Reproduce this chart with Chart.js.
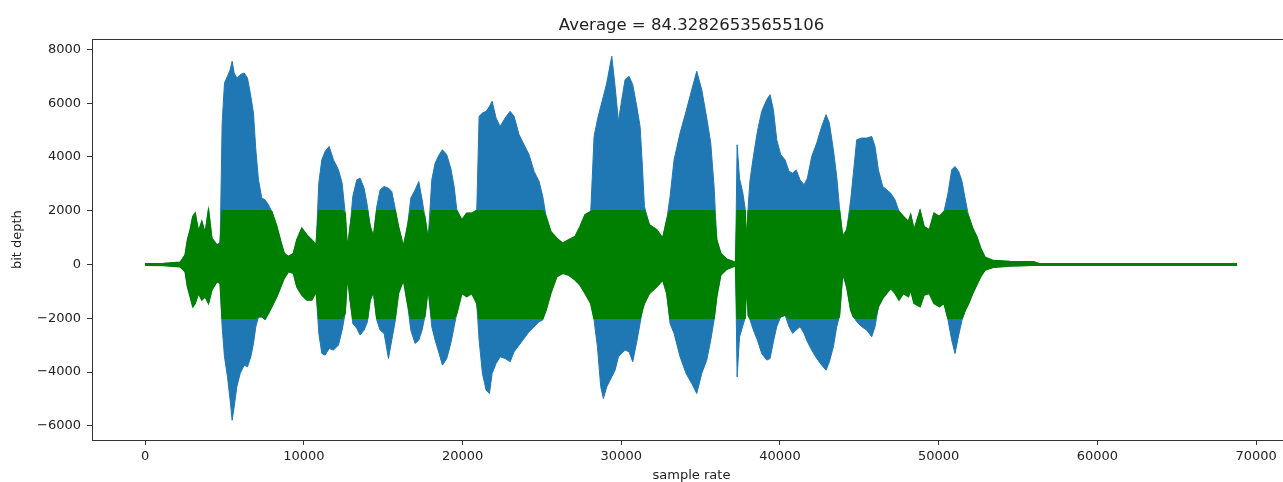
<!DOCTYPE html>
<html>
<head>
<meta charset="utf-8">
<title>Average waveform</title>
<script src="https://cdn.jsdelivr.net/npm/chart.js@4/dist/chart.umd.min.js"></script>
<style>
    html, body { margin: 0; padding: 0; background: #fff; overflow: hidden; }
    #wave { display: block; }
</style>
</head>
<body>
<canvas id="wave" width="1300" height="482"></canvas>
<script>
// Texts
const chartTitle = 'Average = 84.32826535655106';
const xLabel = 'sample rate';
const yLabel = 'bit depth';

// Ticks
const xTickValues = [0, 10000, 20000, 30000, 40000, 50000, 60000, 70000];
const yTickValues = [-6000, -4000, -2000, 0, 2000, 4000, 6000, 8000];

// Sample positions of the traced envelope
const sampleX = [
    0, 1155, 2205, 2520, 2667, 2835, 3003, 3150, 3360, 3570,
    3780, 3990, 4200, 4515, 4725, 4851, 4998, 5187, 5355, 5481,
    5607, 5775, 5985, 6237, 6447, 6657, 6825, 6972, 7140, 7350,
    7560, 7770, 7980, 8295, 8547, 8757, 9030, 9345, 9555, 9870,
    10185, 10500, 10773, 10941, 11130, 11340, 11592, 11865, 12180, 12411,
    12600, 12747, 12915, 13083, 13335, 13545, 13797, 14007, 14175, 14385,
    14595, 14805, 15057, 15330, 15540, 15750, 15960, 16275, 16527, 16737,
    17010, 17241, 17451, 17619, 17829, 18060, 18270, 18522, 18732, 19005,
    19257, 19467, 19635, 19950, 20265, 20580, 20895, 21042, 21252, 21483,
    21693, 21861, 22113, 22365, 22680, 22995, 23247, 23562, 23877, 24192,
    24507, 24822, 25053, 25263, 25557, 25935, 26313, 26670, 27090, 27405,
    27720, 28077, 28287, 28497, 28707, 28875, 29085, 29400, 29610, 29820,
    30030, 30240, 30492, 30723, 30975, 31185, 31332, 31458, 31773, 32235,
    32613, 32865, 33075, 33327, 33705, 34083, 34440, 34755, 35070, 35385,
    35637, 35847, 36015, 36267, 36645, 37065, 37200, 37300, 37450, 37650,
    37800, 37900, 38000, 38115, 38325, 38577, 38850, 39165, 39375, 39585,
    39795, 40047, 40320, 40572, 40803, 41013, 41265, 41517, 41727, 42000,
    42315, 42630, 42903, 43113, 43365, 43575, 43743, 43953, 44205, 44457,
    44625, 44835, 45150, 45465, 45780, 45990, 46200, 46473, 46725, 46977,
    47250, 47502, 47775, 48090, 48237, 48447, 48825, 49077, 49413, 49707,
    50043, 50337, 50589, 50820, 51030, 51261, 51471, 51681, 51891, 52143,
    52395, 52647, 52920, 53445, 54495, 55965, 56300, 68800
];

// Raw signal, upper and lower envelope (blue)
const blueTop = [
    30, 35, 80, 356, 915, 1287, 1784, 1909, 1225, 1598,
    1163, 2095, 977, 729, 791, 5262, 6752, 7001, 7249, 7560,
    7125, 6939, 7063, 7125, 6939, 6256, 5635, 4268, 3151, 2468,
    2405, 2219, 1971, 1412, 853, 418, 294, 418, 915, 1350,
    1101, 915, 729, 3027, 3896, 4206, 4393, 3896, 3523, 3027,
    1909, 542, 1412, 2530, 3151, 3213, 2840, 2157, 1412, 1039,
    2157, 2778, 2902, 2840, 2716, 2095, 1412, 667, 1412, 2468,
    2778, 3089, 2405, 1784, 915, 3151, 3772, 4082, 4268, 4082,
    3585, 2902, 2033, 1660, 1909, 1909, 2033, 5511, 5635, 5697,
    5883, 6070, 5448, 5138, 5448, 5697, 5511, 4827, 4455, 4082,
    3461, 3089, 2530, 1784, 1225, 977, 791, 915, 1039, 1412,
    1847, 1971, 4765, 5386, 5883, 6256, 6752, 7746, 6628, 5324,
    6131, 6877, 7001, 6690, 5883, 5138, 3647, 2157, 1474, 1287,
    977, 1660, 2530, 3896, 4889, 5697, 6504, 7187, 6504, 5448,
    4517, 2902, 915, 418, 195, 108, 60, 4454, 3200, 2700,
    2100, 700, 2200, 3151, 4020, 4951, 5697, 6131, 6318, 5759,
    4641, 4082, 3896, 3461, 3399, 3523, 3151, 2964, 3213, 4020,
    4517, 5138, 5573, 5262, 4268, 3275, 2157, 1039, 1287, 2405,
    3399, 4641, 4703, 4703, 4765, 4393, 3523, 2902, 2778, 2654,
    2405, 1971, 1784, 1598, 1847, 1287, 2033, 1412, 1287, 1909,
    1784, 1971, 2654, 3523, 3647, 3461, 3089, 2405, 1784, 1350,
    1039, 605, 269, 145, 108, 100, 35, 30
];
const blueBottom = [
    -30, -35, -80, -265, -824, -1196, -1569, -1445, -1072, -1320,
    -1196, -1445, -948, -638, -700, -2314, -3432, -4177, -5047, -5792,
    -5295, -4550, -4053, -3743, -3805, -3432, -2935, -2314, -1941, -1941,
    -2066, -1817, -1569, -1196, -824, -513, -265, -327, -824, -1134,
    -1320, -1320, -1010, -2563, -3308, -3370, -3122, -3184, -2997, -2438,
    -1817, -389, -1320, -2190, -2376, -2625, -2438, -2128, -1320, -1010,
    -2066, -2438, -2563, -3494, -2811, -2128, -1072, -575, -1445, -2438,
    -2935, -2811, -2438, -1941, -886, -2314, -2811, -3308, -3743, -3494,
    -2935, -2314, -1817, -1072, -1196, -1072, -1445, -2811, -4053, -4674,
    -4798, -4053, -3681, -3432, -3494, -3618, -3246, -2997, -2749, -2500,
    -2314, -2128, -2066, -1693, -1072, -451, -327, -389, -575, -762,
    -1072, -1445, -2066, -3060, -4550, -4984, -4550, -4177, -3929, -3432,
    -3308, -3184, -3246, -3618, -2873, -2190, -1693, -1445, -1072, -824,
    -575, -1072, -2190, -2563, -3432, -4053, -4426, -4798, -4053, -3556,
    -2811, -2066, -1196, -389, -178, -78, -60, -4180, -2700, -2300,
    -2000, -600, -1900, -2066, -2438, -2811, -3308, -3556, -3494, -2873,
    -2314, -1941, -1879, -2314, -2563, -2438, -2314, -2563, -2873, -3184,
    -3494, -3743, -3929, -3618, -3060, -2314, -1941, -327, -824, -1693,
    -1941, -2128, -2314, -2438, -2687, -2314, -1569, -1258, -1072, -886,
    -1072, -1320, -1072, -1196, -948, -1445, -1569, -1134, -1072, -1445,
    -1569, -1445, -2066, -2811, -3308, -2625, -2066, -1693, -1445, -1072,
    -762, -451, -203, -103, -54, -30, -30, -30
];

// Clipped signal, upper and lower envelope (green)
const greenTop = [
    30, 35, 80, 356, 915, 1287, 1784, 1909, 1225, 1598,
    1163, 2000, 977, 729, 791, 2000, 2000, 2000, 2000, 2000,
    2000, 2000, 2000, 2000, 2000, 2000, 2000, 2000, 2000, 2000,
    2000, 2000, 1971, 1412, 853, 418, 294, 418, 915, 1350,
    1101, 915, 729, 2000, 2000, 2000, 2000, 2000, 2000, 2000,
    1909, 542, 1412, 2000, 2000, 2000, 2000, 2000, 1412, 1039,
    2000, 2000, 2000, 2000, 2000, 2000, 1412, 667, 1412, 2000,
    2000, 2000, 2000, 1784, 915, 2000, 2000, 2000, 2000, 2000,
    2000, 2000, 2000, 1660, 1909, 1909, 2000, 2000, 2000, 2000,
    2000, 2000, 2000, 2000, 2000, 2000, 2000, 2000, 2000, 2000,
    2000, 2000, 2000, 1784, 1225, 977, 791, 915, 1039, 1412,
    1847, 1971, 2000, 2000, 2000, 2000, 2000, 2000, 2000, 2000,
    2000, 2000, 2000, 2000, 2000, 2000, 2000, 2000, 1474, 1287,
    977, 1660, 2000, 2000, 2000, 2000, 2000, 2000, 2000, 2000,
    2000, 2000, 915, 418, 195, 108, 60, 2000, 2000, 2000,
    2000, 700, 2000, 2000, 2000, 2000, 2000, 2000, 2000, 2000,
    2000, 2000, 2000, 2000, 2000, 2000, 2000, 2000, 2000, 2000,
    2000, 2000, 2000, 2000, 2000, 2000, 2000, 1039, 1287, 2000,
    2000, 2000, 2000, 2000, 2000, 2000, 2000, 2000, 2000, 2000,
    2000, 1971, 1784, 1598, 1847, 1287, 2000, 1412, 1287, 1909,
    1784, 1971, 2000, 2000, 2000, 2000, 2000, 2000, 1784, 1350,
    1039, 605, 269, 145, 108, 100, 35, 30
];
const greenBottom = [
    -30, -35, -80, -265, -824, -1196, -1569, -1445, -1072, -1320,
    -1196, -1445, -948, -638, -700, -2000, -2000, -2000, -2000, -2000,
    -2000, -2000, -2000, -2000, -2000, -2000, -2000, -2000, -1941, -1941,
    -2000, -1817, -1569, -1196, -824, -513, -265, -327, -824, -1134,
    -1320, -1320, -1010, -2000, -2000, -2000, -2000, -2000, -2000, -2000,
    -1817, -389, -1320, -2000, -2000, -2000, -2000, -2000, -1320, -1010,
    -2000, -2000, -2000, -2000, -2000, -2000, -1072, -575, -1445, -2000,
    -2000, -2000, -2000, -1941, -886, -2000, -2000, -2000, -2000, -2000,
    -2000, -2000, -1817, -1072, -1196, -1072, -1445, -2000, -2000, -2000,
    -2000, -2000, -2000, -2000, -2000, -2000, -2000, -2000, -2000, -2000,
    -2000, -2000, -2000, -1693, -1072, -451, -327, -389, -575, -762,
    -1072, -1445, -2000, -2000, -2000, -2000, -2000, -2000, -2000, -2000,
    -2000, -2000, -2000, -2000, -2000, -2000, -1693, -1445, -1072, -824,
    -575, -1072, -2000, -2000, -2000, -2000, -2000, -2000, -2000, -2000,
    -2000, -2000, -1196, -389, -178, -78, -60, -2000, -2000, -2000,
    -2000, -600, -1900, -2000, -2000, -2000, -2000, -2000, -2000, -2000,
    -2000, -1941, -1879, -2000, -2000, -2000, -2000, -2000, -2000, -2000,
    -2000, -2000, -2000, -2000, -2000, -2000, -1941, -327, -824, -1693,
    -1941, -2000, -2000, -2000, -2000, -2000, -1569, -1258, -1072, -886,
    -1072, -1320, -1072, -1196, -948, -1445, -1569, -1134, -1072, -1445,
    -1569, -1445, -2000, -2000, -2000, -2000, -2000, -1693, -1445, -1072,
    -762, -451, -203, -103, -54, -30, -30, -30
];

const textColor = '#222';
const spineColor = '#333';
const xMin = -3350, xMax = 72200;

Chart.defaults.font.family = "'DejaVu Sans', sans-serif";

const toPoints = ys => sampleX.map((x, i) => ({ x: x, y: ys[i] }));
// matplotlib style: real minus sign, no thousands separator
const tickText = v => (v < 0 ? '\u2212' + Math.abs(v) : String(v));

new Chart(document.getElementById('wave'), {
    type: 'line',
    data: {
        datasets: [
            { label: 'clipped', data: toPoints(greenTop), borderColor: '#008000', backgroundColor: '#008000', borderWidth: 1.5, fill: '+1' },
            { label: 'clipped (low)', data: toPoints(greenBottom), borderColor: '#008000', borderWidth: 1.5, fill: false },
            { label: 'signal', data: toPoints(blueTop), borderColor: '#1f77b4', backgroundColor: '#1f77b4', borderWidth: 1, fill: '+1' },
            { label: 'signal (low)', data: toPoints(blueBottom), borderColor: '#1f77b4', borderWidth: 1, fill: false }
        ]
    },
    options: {
        responsive: false,
        animation: false,
        devicePixelRatio: 1,
        elements: { point: { radius: 0 }, line: { tension: 0 } },
        layout: { padding: { left: 0, right: 9, top: 0, bottom: 0 } },
        plugins: {
            legend: { display: false },
            tooltip: { enabled: false },
            title: {
                display: true,
                fullSize: false,
                text: chartTitle,
                color: textColor,
                font: { size: 16.5, weight: 'normal' },
                padding: { top: 15.5, bottom: 4 }
            }
        },
        scales: {
            x: {
                type: 'linear',
                position: 'bottom',
                min: xMin,
                max: xMax,
                afterBuildTicks: s => { s.ticks = xTickValues.map(v => ({ value: v })); },
                afterFit: s => { s.height = 42; },
                ticks: { color: textColor, font: { size: 13 }, padding: 4, maxRotation: 0, autoSkip: false, callback: tickText },
                grid: { drawOnChartArea: false, tickLength: 5, color: spineColor },
                border: { color: spineColor, width: 1 },
                title: { display: true, text: xLabel, color: textColor, font: { size: 13, lineHeight: 1 }, padding: 0 }
            },
            xTop: {
                type: 'linear',
                position: 'top',
                min: xMin,
                max: xMax,
                afterFit: s => { s.height = 0; },
                ticks: { display: false },
                grid: { display: false },
                border: { color: spineColor, width: 1 }
            },
            y: {
                type: 'linear',
                position: 'left',
                min: -6527,
                max: 8377,
                afterBuildTicks: s => { s.ticks = yTickValues.map(v => ({ value: v })); },
                afterFit: s => { s.width = 92; },
                ticks: { color: textColor, font: { size: 13 }, padding: 6, autoSkip: false, callback: tickText },
                grid: { drawOnChartArea: false, tickLength: 5, color: spineColor },
                border: { color: spineColor, width: 1 },
                title: { display: true, text: yLabel, color: textColor, font: { size: 13 }, padding: { top: 10, bottom: 0 } }
            }
        }
    }
});
</script>
</body>
</html>
